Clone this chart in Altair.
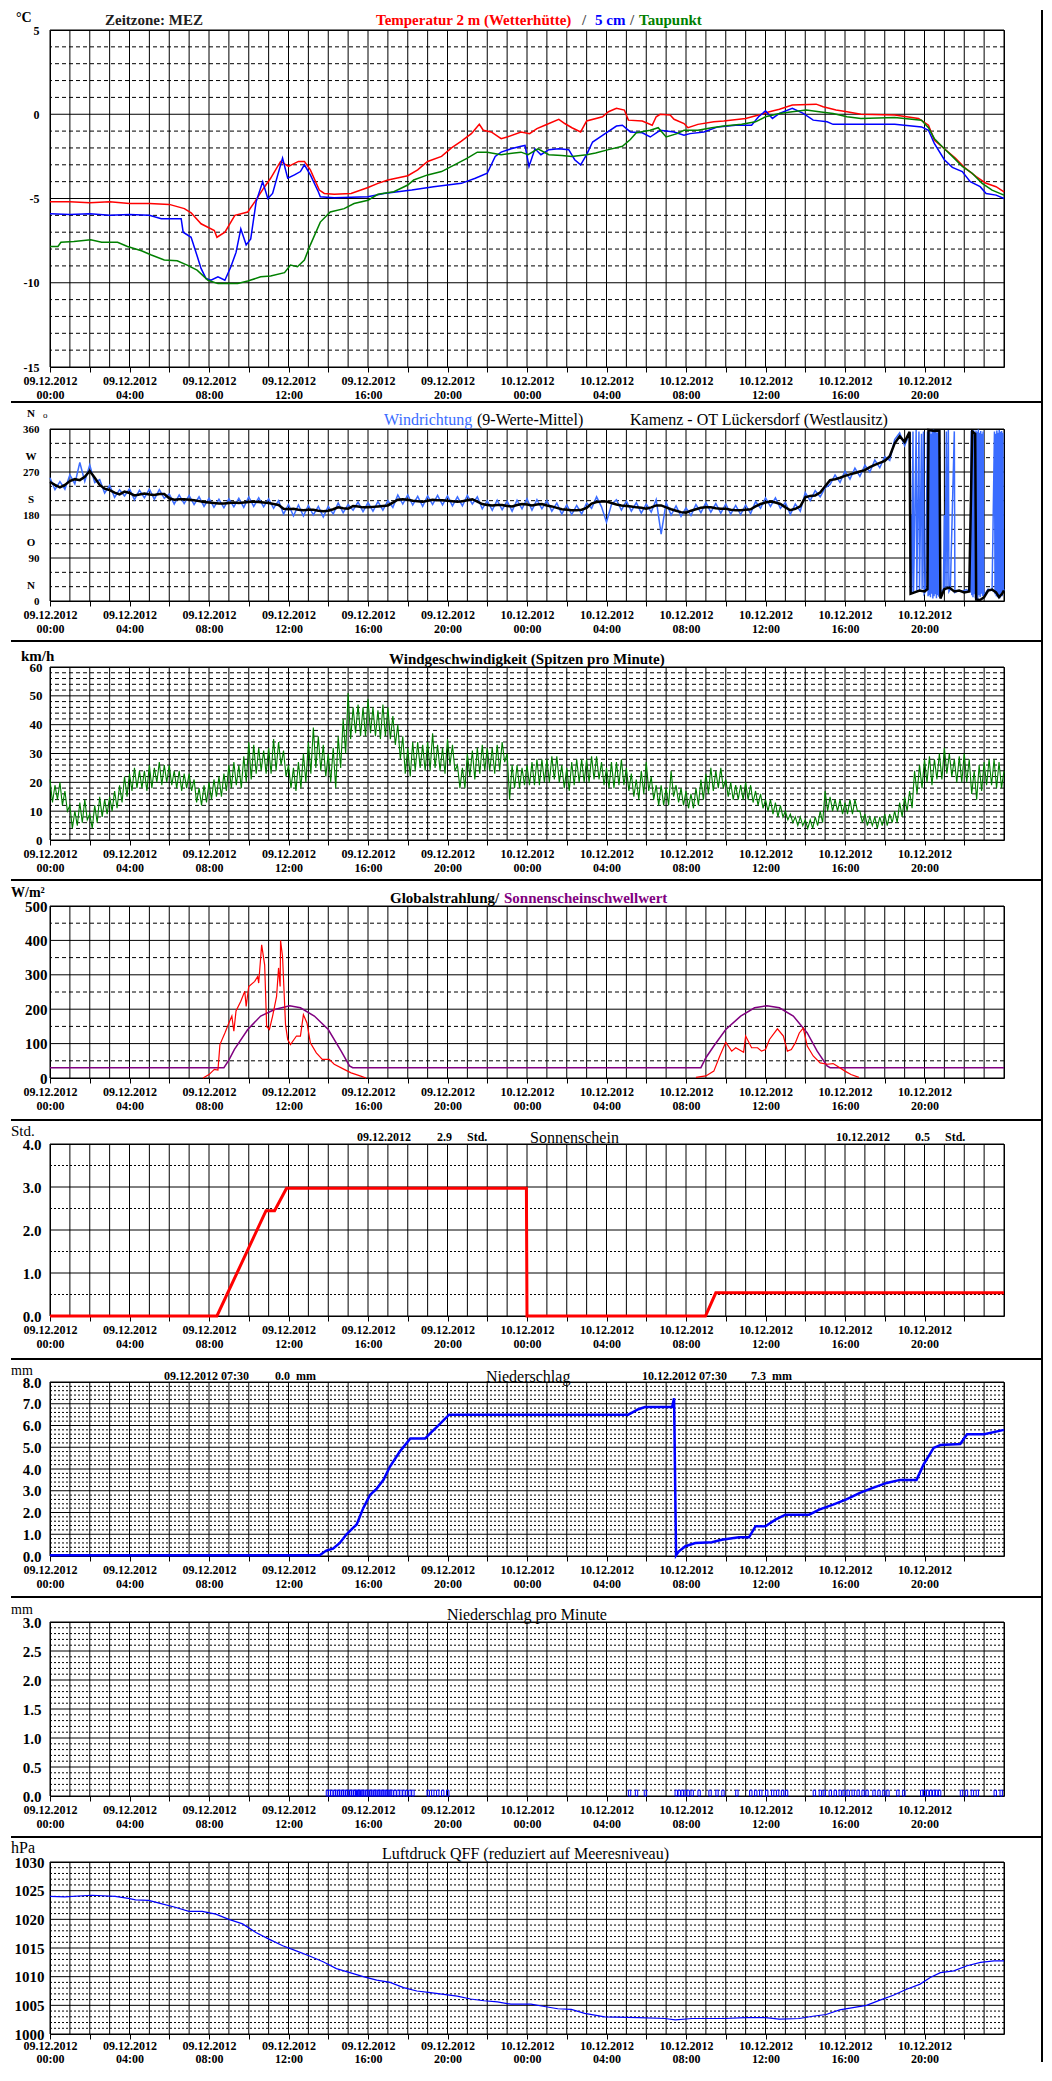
import altair as alt
import pandas as pd

FONT = "Liberation Serif"
W = 954

# ---------------- layout (reference page coordinates of the plot areas) ----------------
TOPS = [28, 427, 666, 906, 1145, 1384, 1625, 1866]
HEIGHTS = [337, 172, 173, 172, 172, 174, 174, 172]
SEPS = [8, 400, 640, 880, 1121, 1361, 1600, 1841, 2079]
RIGHT = 992  # right frame line, local x

# ---------------- data ----------------
T2 = [(0, -5.2), (1, -5.2), (2, -5.25), (3, -5.2), (4, -5.3), (5, -5.3), (6, -5.35), (6.76, -5.6),
      (7.1, -5.85), (7.6, -6.5), (8.27, -6.9), (8.4, -7.3), (8.8, -7.0), (9.3, -6.0), (9.95, -5.8),
      (10.3, -5.2), (10.8, -4.3), (11.1, -3.8), (11.6, -2.8), (12.0, -3.1), (12.5, -2.8), (12.8, -2.8),
      (13.1, -3.3), (13.55, -4.5), (13.8, -4.7), (14.3, -4.75), (15.15, -4.7), (16.0, -4.35), (16.5, -4.1),
      (17.0, -3.9), (18.0, -3.65), (18.5, -3.3), (19.0, -2.8), (19.7, -2.5), (20.2, -2.0), (20.7, -1.6),
      (21.2, -1.15), (21.6, -0.6), (21.8, -0.95), (22.2, -1.05), (22.7, -1.45), (23.0, -1.35), (23.7, -1.05),
      (24.13, -1.15), (24.5, -0.85), (24.9, -0.65), (25.6, -0.3), (25.9, -0.55), (26.26, -0.8), (26.7, -1.05),
      (27.0, -0.4), (27.8, -0.15), (28.1, 0.15), (28.5, 0.35), (28.9, 0.25), (29.1, -0.35), (29.8, -0.4),
      (30.3, -0.65), (30.5, -0.15), (30.7, 0.0), (31.2, -0.05), (31.4, -0.3), (31.9, -0.55), (32.1, -0.8),
      (32.6, -0.6), (33.4, -0.45), (33.9, -0.4), (35.0, -0.25), (35.65, -0.05), (36.2, 0.15), (36.7, 0.3),
      (37.35, 0.55), (38.55, 0.6), (38.9, 0.45), (39.55, 0.25), (40.1, 0.15), (40.8, 0.0), (42.5, -0.05),
      (43.7, -0.25), (44.2, -0.65), (44.5, -1.55), (45.0, -2.05), (45.55, -2.6), (46.05, -3.2), (46.6, -3.7),
      (47.1, -4.1), (47.6, -4.3), (48.0, -4.6)]

T5 = [(0, -5.9), (1, -5.95), (2, -5.9), (3, -6.0), (4, -5.95), (5, -6.0), (5.6, -6.2), (6.6, -6.2), (6.7, -7.0),
      (7.1, -7.3), (7.4, -8.4), (7.6, -9.15), (7.85, -9.75), (8.1, -9.85), (8.45, -9.65), (8.8, -9.85),
      (9.1, -9.05), (9.36, -8.2), (9.6, -6.8), (9.87, -7.75), (10.1, -7.4), (10.37, -5.2), (10.7, -4.0),
      (10.96, -5.0), (11.2, -4.7), (11.46, -3.6), (11.7, -2.6), (11.96, -3.8), (12.3, -3.6), (12.6, -3.4),
      (12.8, -3.0), (13.1, -3.6), (13.5, -4.6), (13.6, -4.9), (14.3, -4.95), (16.0, -4.9), (16.8, -4.7),
      (18.2, -4.5), (19.3, -4.3), (20.7, -4.1), (21.4, -3.8), (22.0, -3.5), (22.4, -2.5), (22.7, -2.25),
      (23.2, -2.05), (23.7, -1.9), (23.9, -1.85), (24.1, -3.1), (24.4, -2.05), (24.7, -2.4), (25.1, -2.1),
      (25.6, -2.05), (26.1, -2.1), (26.4, -2.7), (26.7, -3.0), (27.0, -2.4), (27.3, -1.65), (27.8, -1.25),
      (28.5, -0.7), (28.8, -0.65), (29.2, -1.05), (29.8, -1.1), (30.2, -1.35), (30.7, -0.95), (31.4, -1.05),
      (31.9, -1.25), (32.2, -1.15), (32.9, -1.05), (33.6, -0.75), (34.5, -0.65), (35.3, -0.65), (35.65, -0.15),
      (36.0, 0.2), (36.35, -0.25), (36.7, 0.05), (37.35, 0.35), (37.9, 0.05), (38.4, -0.35), (39.1, -0.45),
      (39.4, -0.6), (40.8, -0.6), (42.5, -0.6), (43.85, -0.75), (44.2, -0.95), (44.5, -1.75), (45.0, -2.7),
      (45.4, -3.15), (45.9, -3.4), (46.3, -4.0), (46.8, -4.3), (47.1, -4.7), (47.6, -4.8), (48.0, -5.0)]

TD = [(0, -7.85), (0.4, -7.85), (0.55, -7.6), (1.2, -7.55), (2.05, -7.45), (2.6, -7.6), (3.4, -7.6),
      (3.9, -7.85), (4.6, -8.1), (5.1, -8.35), (5.75, -8.65), (6.4, -8.7), (6.9, -8.95), (7.4, -9.25),
      (7.95, -9.85), (8.45, -10.05), (8.95, -10.05), (9.45, -10.05), (9.95, -9.9), (10.6, -9.65), (11.1, -9.6),
      (11.8, -9.4), (12.1, -8.95), (12.45, -9.05), (12.8, -8.65), (13.1, -7.75), (13.6, -6.4), (14.1, -5.8),
      (14.8, -5.6), (15.3, -5.3), (16.0, -5.1), (16.5, -4.75), (17.3, -4.6), (18.0, -4.2), (18.3, -3.9),
      (19.0, -3.6), (19.7, -3.4), (20.35, -3.0), (21.0, -2.6), (21.5, -2.25), (22.0, -2.25), (22.7, -2.4),
      (23.35, -2.3), (23.7, -2.25), (24.05, -2.4), (24.55, -2.05), (25.1, -2.4), (25.75, -2.45), (26.26, -2.5),
      (27.0, -2.4), (27.45, -2.3), (28.1, -2.1), (28.8, -1.9), (29.2, -1.5), (29.5, -1.1), (30.2, -0.95),
      (30.6, -0.8), (31.0, -1.35), (31.55, -1.15), (31.9, -0.95), (32.6, -0.95), (33.3, -0.8), (33.9, -0.7),
      (34.8, -0.6), (35.5, -0.45), (36.0, -0.15), (36.7, 0.05), (37.35, 0.15), (38.05, 0.25), (38.7, 0.15),
      (39.4, 0.05), (40.1, -0.15), (40.8, -0.25), (42.5, -0.2), (43.85, -0.35), (44.2, -0.8), (44.5, -1.45),
      (45.0, -2.05), (45.4, -2.5), (45.9, -3.1), (46.4, -3.5), (46.9, -4.1), (47.4, -4.5), (48.0, -4.8)]

# wind direction, quarter-hour readings 0:00 .. 43:15 (9-value mean, black)
WD_MEAN = [
    249, 243, 238, 243, 251, 255, 253, 260, 272, 258, 243, 235, 232, 227, 223, 229,
    226, 221, 223, 225, 223, 222, 224, 224, 215, 212, 213, 213, 212, 211, 209, 207,
    206, 205, 204, 204, 205, 206, 205, 206, 207, 208, 207, 206, 205, 203, 201, 193,
    192, 193, 191, 190, 191, 191, 189, 188, 189, 192, 196, 194, 193, 199, 198, 196,
    196, 197, 198, 199, 200, 206, 212, 213, 212, 210, 209, 208, 210, 212, 211, 211,
    210, 209, 208, 209, 211, 213, 208, 203, 201, 200, 201, 201, 199, 198, 201, 203,
    202, 200, 202, 203, 200, 198, 195, 192, 191, 190, 190, 191, 195, 204, 207, 208,
    208, 205, 202, 200, 199, 198, 196, 195, 193, 196, 200, 200, 196, 192, 189, 186,
    185, 189, 192, 195, 196, 196, 194, 193, 193, 191, 190, 190, 191, 192, 198, 203,
    206, 208, 206, 203, 196, 190, 193, 198, 217, 220, 221, 227, 240, 253, 255, 258,
    262, 265, 268, 271, 274, 280, 285, 289, 293, 303, 330, 345, 333, 354]
# raw direction (blue), same quarter-hour readings
WD_RAW = [
    258, 233, 250, 234, 264, 245, 290, 250, 285, 248, 254, 226, 242, 217, 233, 220,
    235, 212, 232, 216, 234, 213, 233, 215, 224, 203, 222, 204, 221, 202, 218, 198,
    215, 196, 213, 195, 214, 197, 215, 196, 218, 198, 216, 197, 214, 194, 210, 182,
    202, 178, 201, 178, 200, 180, 198, 176, 198, 182, 205, 185, 202, 190, 207, 187,
    206, 188, 208, 190, 210, 196, 222, 203, 222, 201, 219, 198, 220, 202, 221, 201,
    220, 199, 218, 199, 221, 203, 218, 193, 210, 190, 211, 191, 209, 188, 211, 193,
    214, 190, 212, 193, 210, 188, 205, 182, 201, 181, 200, 182, 205, 194, 218, 197,
    165, 202, 212, 190, 209, 188, 206, 184, 203, 186, 212, 140, 206, 180, 199, 177,
    195, 179, 202, 185, 206, 186, 204, 184, 203, 182, 200, 181, 201, 183, 208, 194,
    216, 198, 216, 194, 206, 181, 203, 188, 227, 210, 231, 218, 237, 244, 264, 248,
    272, 255, 278, 261, 284, 270, 295, 279, 302, 294, 338, 352, 325, 350]
WD_MEAN_LATE = [(43.3, 15), (43.5, 18), (43.75, 22), (44.0, 20), (44.15, 25), (44.2, 358), (44.5, 356),
                (44.75, 357), (44.8, 5), (45.0, 25), (45.25, 28), (45.5, 20), (45.75, 22), (46.0, 18),
                (46.25, 20), (46.4, 355), (46.55, 350), (46.6, 3), (46.8, 2), (47.0, 8), (47.2, 22),
                (47.4, 24), (47.6, 18), (47.75, 8), (47.9, 15), (48.0, 22)]
WD_RAW_LATE = [(43.28, 350), (43.3, 20), (43.33, 180), (43.36, 15), (43.42, 355), (43.45, 18), (43.58, 358),
               (43.61, 22), (43.72, 355), (43.75, 20), (43.85, 350), (43.88, 25), (43.95, 355), (43.98, 15),
               (44.05, 20), (44.15, 355), (44.18, 10), (44.21, 352), (44.24, 12), (44.27, 358), (44.3, 8),
               (44.33, 350), (44.36, 15), (44.39, 356), (44.42, 5), (44.45, 359), (44.48, 10), (44.51, 354),
               (44.54, 14), (44.57, 357), (44.6, 6), (44.63, 352), (44.66, 12), (44.69, 358), (44.72, 9),
               (44.75, 355), (44.78, 15), (44.85, 20), (44.95, 25), (45.0, 180), (45.03, 22), (45.1, 355),
               (45.13, 30), (45.2, 358), (45.23, 20), (45.3, 25), (45.5, 355), (45.53, 18), (45.7, 22),
               (45.9, 20), (46.1, 24), (46.3, 20), (46.35, 356), (46.38, 12), (46.41, 352), (46.44, 8),
               (46.47, 358), (46.5, 14), (46.53, 350), (46.56, 6), (46.59, 357), (46.62, 10), (46.65, 354),
               (46.68, 4), (46.71, 359), (46.74, 12), (46.77, 352), (46.8, 8), (46.83, 356), (46.86, 15),
               (46.89, 350), (46.92, 10), (46.95, 355), (46.98, 12), (47.05, 15), (47.2, 25), (47.4, 22),
               (47.52, 355), (47.55, 14), (47.58, 350), (47.61, 10), (47.64, 357), (47.67, 8), (47.7, 352),
               (47.73, 12), (47.76, 358), (47.79, 6), (47.82, 354), (47.85, 15), (47.88, 356), (47.91, 10),
               (47.94, 352), (47.97, 20), (48.0, 25)]

# wind gusts, quarter-hour peaks and lows (km/h)
WS_HI = [21, 19, 20, 17, 12, 10, 13, 14, 9, 12, 15, 14, 15, 17, 19, 22,
         23, 25, 24, 24, 26, 25, 27, 26, 26, 24, 24, 23, 23, 21, 18, 19,
         20, 21, 22, 23, 26, 27, 26, 29, 34, 33, 32, 31, 32, 35, 34, 31,
         26, 25, 27, 30, 34, 39, 36, 33, 30, 32, 36, 42, 51, 46, 47, 46,
         49, 46, 45, 47, 46, 43, 40, 36, 32, 34, 34, 33, 34, 37, 33, 32,
         35, 33, 26, 25, 30, 31, 32, 33, 32, 32, 33, 34, 30, 26, 26, 25,
         26, 27, 28, 28, 28, 29, 29, 26, 25, 27, 28, 28, 28, 29, 29, 27,
         25, 27, 27, 28, 25, 23, 21, 24, 27, 22, 19, 19, 18, 24, 19, 18,
         17, 16, 18, 21, 23, 25, 24, 25, 21, 20, 19, 19, 20, 19, 17, 16,
         14, 14, 13, 12, 10, 9, 8, 8, 7, 7, 8, 10, 17, 15, 14, 14,
         13, 14, 14, 10, 9, 8, 8, 8, 9, 9, 10, 13, 15, 17, 24, 26,
         28, 29, 28, 30, 32, 30, 28, 29, 30, 28, 24, 26, 27, 28, 28, 27]
WS_LO = [13, 14, 12, 10, 4, 5, 6, 7, 4, 6, 8, 9, 10, 11, 13, 15,
         17, 18, 18, 17, 18, 20, 19, 20, 19, 18, 17, 18, 17, 13, 12, 13,
         14, 15, 15, 17, 18, 19, 18, 20, 21, 23, 24, 23, 23, 24, 26, 22,
         18, 17, 18, 20, 23, 25, 24, 22, 20, 18, 25, 30, 35, 37, 36, 36,
         37, 36, 35, 36, 35, 33, 28, 23, 22, 24, 25, 24, 24, 25, 24, 23,
         26, 24, 18, 18, 22, 21, 23, 24, 24, 23, 24, 27, 14, 18, 18, 19,
         19, 19, 19, 20, 20, 21, 20, 18, 17, 19, 20, 20, 20, 21, 21, 19,
         18, 18, 19, 19, 17, 15, 14, 16, 17, 14, 12, 12, 12, 15, 13, 12,
         11, 11, 12, 14, 16, 17, 18, 18, 15, 14, 14, 14, 14, 13, 12, 11,
         10, 9, 8, 8, 7, 6, 5, 5, 4, 4, 5, 6, 10, 10, 10, 9,
         9, 9, 10, 6, 5, 5, 4, 5, 5, 6, 6, 8, 10, 11, 16, 18,
         20, 19, 21, 21, 23, 22, 20, 20, 20, 16, 14, 17, 19, 19, 18, 18]
WS_END = (48.0, 24)

GR = [(7.7, 0), (8.0, 10), (8.27, 25), (8.45, 23), (8.55, 97), (8.8, 131), (9.0, 160), (9.15, 180), (9.25, 136),
      (9.36, 195), (9.6, 223), (9.8, 252), (9.87, 208), (10.0, 266), (10.3, 281), (10.45, 295), (10.5, 276),
      (10.65, 387), (10.8, 329), (10.9, 150), (11.04, 141), (11.2, 180), (11.4, 237), (11.5, 320), (11.58, 266),
      (11.6, 400), (11.7, 353), (11.85, 155), (11.96, 112), (12.1, 97), (12.4, 122), (12.6, 122), (12.75, 184),
      (12.93, 160), (13.1, 102), (13.4, 73), (13.7, 54), (14.05, 54), (14.3, 40), (14.8, 25), (15.15, 15),
      (15.6, 6), (15.9, 0)]
GR2 = [(32.5, 2), (33.0, 6), (33.4, 20), (33.7, 64), (34.0, 104), (34.3, 78), (34.5, 88), (34.9, 75), (35.0, 122),
       (35.3, 88), (35.6, 88), (35.8, 78), (36.0, 83), (36.2, 112), (36.6, 143), (36.9, 122), (37.1, 78),
       (37.3, 83), (37.5, 102), (37.7, 131), (37.9, 145), (38.1, 93), (38.4, 64), (38.75, 44), (39.1, 40),
       (39.4, 42), (39.6, 35), (40.0, 20), (40.3, 10), (40.7, 2)]
THRESH = [(0, 30), (8.75, 30), (9.0, 52), (9.28, 83), (9.95, 141), (10.6, 180), (11.3, 199), (12.06, 210),
          (12.6, 204), (13.3, 180), (14.0, 141), (14.65, 78), (15.07, 35), (15.23, 30), (32.75, 30), (33.0, 59),
          (33.4, 93), (34.0, 141), (34.75, 180), (35.45, 204), (36.07, 210), (36.7, 204), (37.4, 180),
          (38.1, 131), (38.6, 78), (39.1, 35), (39.25, 30), (48, 30)]

SUN = [(0, 0), (8.4, 0), (10.87, 2.45), (11.3, 2.45), (11.9, 2.97), (23.97, 2.97), (24.0, 0), (32.98, 0),
       (33.5, 0.54), (48, 0.54)]

PRECIP = [(0, 0.03), (13.57, 0.03), (13.9, 0.25), (14.24, 0.34), (14.58, 0.6), (14.92, 1.0), (15.26, 1.3),
          (15.43, 1.45), (15.76, 2.2), (16.1, 2.8), (16.44, 3.1), (16.78, 3.5), (17.1, 4.1), (17.6, 4.8),
          (18.13, 5.4), (18.87, 5.4), (19.14, 5.65), (19.48, 5.95), (20.08, 6.5), (29.1, 6.5), (29.6, 6.75),
          (29.94, 6.85), (31.3, 6.85), (31.4, 7.25), (31.5, 0.03), (31.63, 0.2), (31.97, 0.45), (32.47, 0.6),
          (33.3, 0.63), (33.8, 0.75), (34.66, 0.86), (35.17, 0.86), (35.5, 1.37), (36.0, 1.37), (36.5, 1.67),
          (37.0, 1.9), (38.2, 1.9), (38.7, 2.13), (39.4, 2.36), (40.07, 2.6), (40.75, 2.9), (41.4, 3.13),
          (42.1, 3.36), (42.77, 3.5), (43.6, 3.5), (43.95, 4.2), (44.46, 4.97), (44.8, 5.1), (45.8, 5.15),
          (46.14, 5.6), (47.0, 5.6), (48.0, 5.8)]

RAIN_MIN_H = [13.9, 14.0, 14.12, 14.25, 14.35, 14.45, 14.55, 14.65, 14.75, 14.85, 14.95, 15.05, 15.15, 15.25,
              15.35, 15.42, 15.5, 15.58, 15.66, 15.75, 15.85, 15.95, 16.05, 16.15, 16.25, 16.35, 16.45, 16.55,
              16.65, 16.75, 16.85, 16.95, 17.05, 17.15, 17.3, 17.45, 17.6, 17.75, 17.9, 18.05, 18.2,
              18.97, 19.2, 19.45, 19.7, 19.95, 29.1, 29.45, 29.9, 31.45, 31.6, 31.75, 31.9, 32.05, 32.25, 32.6,
              33.15, 33.5, 33.8, 34.5, 35.2, 35.45, 35.7, 36.0, 36.3, 36.55, 36.8, 37.0, 38.4, 38.7, 38.9,
              39.2, 39.45, 39.7, 39.9, 40.1, 40.35, 40.6, 40.85, 41.05, 41.4, 41.65, 41.9, 42.1, 42.6, 42.9,
              43.8, 43.95, 44.1, 44.25, 44.4, 44.55, 44.7, 45.8, 46.05, 46.35, 46.6, 47.5, 47.8]
RAIN_MIN_MM = 0.1

QFF = [(0, 1024.0), (0.74, 1023.9), (2.1, 1024.2), (3.27, 1024.0), (3.95, 1023.65), (4.3, 1023.4),
       (4.96, 1023.3), (5.64, 1022.7), (6.3, 1022.1), (6.99, 1021.4), (7.66, 1021.4), (8.34, 1020.9),
       (9.0, 1020.0), (9.69, 1019.2), (10.36, 1017.7), (11.04, 1016.5), (11.71, 1015.4), (12.39, 1014.5),
       (13.06, 1013.6), (13.74, 1012.6), (14.41, 1011.4), (15.09, 1010.7), (15.76, 1010.0), (16.44, 1009.4),
       (17.11, 1009.0), (17.79, 1008.1), (18.46, 1007.5), (19.14, 1007.2), (19.81, 1006.9), (20.49, 1006.6),
       (21.16, 1006.1), (21.84, 1005.8), (22.51, 1005.6), (23.19, 1005.2), (24.2, 1005.2), (24.88, 1004.8),
       (25.55, 1004.4), (26.23, 1004.3), (26.9, 1003.6), (27.91, 1003.0), (29.6, 1002.85), (30.95, 1002.7),
       (31.46, 1002.45), (32.3, 1002.7), (34.0, 1002.7), (35.0, 1002.85), (36.0, 1002.85), (36.7, 1002.6),
       (37.7, 1002.7), (38.38, 1003.1), (39.05, 1003.4), (39.73, 1004.2), (40.4, 1004.6), (41.08, 1005.0),
       (41.76, 1005.9), (42.43, 1006.75), (43.1, 1007.8), (43.78, 1008.7), (44.29, 1009.85), (44.8, 1010.7),
       (45.47, 1011.0), (46.14, 1011.9), (46.82, 1012.5), (47.5, 1012.75), (48.0, 1012.75)]

# ---------------- helpers ----------------
ONE = pd.DataFrame({"a": [0]})
HOURS = list(range(49))
XS = alt.Scale(domain=[0, 48], nice=False, zero=False)
LABEL_EXPR = ("datum.value % 4 == 0 ? [(datum.value < 24 ? '09' : '10') + '.12.2012', "
              "((datum.value % 24) < 10 ? '0' : '') + (datum.value % 24) + ':00'] : ''")


def make_xaxis(pad, lh):
    return alt.Axis(values=list(range(0, 48, 2)), labelExpr=LABEL_EXPR, title=None, grid=False, domain=False,
                    ticks=True, tickSize=5, tickColor="black", tickWidth=1,
                    labelFont=FONT, labelFontSize=12, labelFontWeight="bold", labelColor="black",
                    labelPadding=pad, labelBaseline="top", labelLineHeight=lh, labelFlush=False,
                    labelOverlap=False)


XAXIS = make_xaxis(3, 14)
XAXIS_LAST = make_xaxis(1, 13)


def make_x(axis):
    def X(field="h"):
        return alt.X(field, type="quantitative", scale=XS, axis=axis)
    return X


def make_y(dom, values, expr, size, pad):
    sc = alt.Scale(domain=dom, nice=False, zero=False)
    ax = alt.Axis(values=values, labelExpr=expr, title=None, grid=False, domain=False, ticks=False,
                  labelFont=FONT, labelFontSize=size, labelFontWeight="bold", labelColor="black",
                  labelPadding=pad, labelFlush=False, labelOverlap=False)

    def Y(field="v"):
        return alt.Y(field, type="quantitative", scale=sc, axis=ax)
    return Y


def grids(X, Y, major, minor, dash):
    g1 = alt.Chart(pd.DataFrame({"v": minor})).mark_rule(color="black", strokeWidth=1, strokeDash=dash).encode(y=Y("v"))
    g2 = alt.Chart(pd.DataFrame({"v": major})).mark_rule(color="black", strokeWidth=1).encode(y=Y("v"))
    g3 = alt.Chart(pd.DataFrame({"h": HOURS})).mark_rule(color="black", strokeWidth=1).encode(x=X("h"))
    return [g1, g2, g3]


def line(pairs, X, Y, color, width):
    df = pd.DataFrame(pairs, columns=["h", "v"])
    return alt.Chart(df).mark_line(color=color, strokeWidth=width).encode(x=X("h"), y=Y("v"))


def txt(s, x, y, color="black", size=15, weight="normal", align="left"):
    return alt.Chart(ONE).mark_text(text=s, font=FONT, fontSize=size, fontWeight=weight, color=color,
                                    align=align, baseline="middle").encode(x=alt.value(x), y=alt.value(y))


def hrule(y, x1=-39, x2=RIGHT, color="black", width=2, opacity=1.0):
    return alt.Chart(ONE).mark_rule(color=color, strokeWidth=width, opacity=opacity).encode(
        x=alt.value(x1), x2=alt.value(x2), y=alt.value(y))


def vrule(x, y1, y2, color="black", width=2):
    return alt.Chart(ONE).mark_rule(color=color, strokeWidth=width).encode(
        x=alt.value(x), y=alt.value(y1), y2=alt.value(y2))


def frame(i):
    top = TOPS[i]
    out = []
    if i == 0:
        out.append(hrule(SEPS[0] - top, x1=-41, color="#c0c0c0", width=1, opacity=0))
    else:
        out.append(hrule(SEPS[i] - top))
    bottom = SEPS[i + 1] - top if i < 7 else 200
    out.append(vrule(RIGHT, SEPS[i] - top, bottom))
    return out


def steps(lo, hi, step, major_every):
    n = int(round((hi - lo) / step))
    vals = [round(lo + k * step, 3) for k in range(n + 1)]
    major = [v for k, v in enumerate(vals) if k % major_every == 0]
    minor = [v for k, v in enumerate(vals) if k % major_every != 0]
    return major, minor


DASH = [4, 3]
DOT = [2, 2]
INT_EXPR = "'' + datum.value"
DEC_EXPR = "format(datum.value, '.1f')"
X = make_x(XAXIS)
XL = make_x(XAXIS_LAST)

# ---------------- panel 1: temperature ----------------
maj, mnr = steps(-15, 5, 1, 5)
Y1 = make_y([-15, 5], maj, INT_EXPR, 12, 11)
p1 = alt.layer(*(grids(X, Y1, maj, mnr, DASH) + [
    line(T2, X, Y1, "#ff0000", 1.5), line(T5, X, Y1, "#0000ff", 1.5), line(TD, X, Y1, "#008000", 1.5),
    txt("°C", -34, -12.5, size=14, weight="bold"),
    txt("Zeitzone: MEZ", 55, -10, color="#202020", size=15, weight="bold"),
    txt("Temperatur 2 m (Wetterhütte)", 326, -10, color="#ff0000", size=15, weight="bold"),
    txt("/", 532, -10, color="#505050", size=15, weight="bold"),
    txt("5 cm", 545, -10, color="#0000ff", size=15, weight="bold"),
    txt("/", 580, -10, color="#505050", size=15, weight="bold"),
    txt("Taupunkt", 589, -10, color="#008000", size=15, weight="bold"),
] + frame(0))).properties(width=W, height=HEIGHTS[0])

# ---------------- panel 2: wind direction ----------------
maj, mnr = steps(0, 360, 30, 3)
Y2 = make_y([0, 360], maj, INT_EXPR, 11, 11)
WD_H = [k * 0.25 for k in range(len(WD_MEAN))]
wd_mean = list(zip(WD_H, WD_MEAN)) + WD_MEAN_LATE
wd_raw = list(zip(WD_H, WD_RAW)) + WD_RAW_LATE
letters = pd.DataFrame({"v": [360, 270, 180, 90, 0], "t": ["N", "W", "S", "O", "N"]})
p2 = alt.layer(*(grids(X, Y2, maj, mnr, DASH) + [
    line(wd_raw, X, Y2, "#3a6cff", 1.5),
    line(wd_mean, X, Y2, "#000000", 2.5),
    alt.Chart(letters).mark_text(font=FONT, fontSize=11, fontWeight="bold", color="black", align="center",
                                 baseline="middle", dy=-15).encode(x=alt.value(-19), y=Y2("v"), text="t:N"),
    txt("o", -7, -14, size=9),
    txt("Windrichtung", 334, -9, color="#3a6cff", size=16),
    txt("(9-Werte-Mittel)", 427, -9, size=16),
    txt("Kamenz - OT Lückersdorf (Westlausitz)", 580, -9, size=16),
] + frame(1))).properties(width=W, height=HEIGHTS[1])

# ---------------- panel 3: wind speed ----------------
maj, mnr = steps(0, 60, 2, 5)
Y3 = make_y([0, 60], maj, INT_EXPR, 13, 8)
ws = []
for k, (hi, lo) in enumerate(zip(WS_HI, WS_LO)):
    ws.append((k * 0.25, hi))
    ws.append((k * 0.25 + 0.125, lo))
ws.append(WS_END)
p3 = alt.layer(*(grids(X, Y3, maj, mnr, DASH) + [
    line(ws, X, Y3, "#008000", 1.1),
    txt("km/h", -29, -11, size=15, weight="bold"),
    txt("Windgeschwindigkeit (Spitzen pro Minute)", 339, -8, size=15, weight="bold"),
] + frame(2))).properties(width=W, height=HEIGHTS[2])

# ---------------- panel 4: global radiation ----------------
maj, mnr = steps(0, 500, 50, 2)
Y4 = make_y([0, 500], maj, INT_EXPR, 15, 3)
gr_df = pd.DataFrame([(h, v, 1) for h, v in GR] + [(h, v, 2) for h, v in GR2], columns=["h", "v", "d"])
p4 = alt.layer(*(grids(X, Y4, maj, mnr, DASH) + [
    line(THRESH, X, Y4, "#800080", 1.5),
    alt.Chart(gr_df).mark_line(color="#ff0000", strokeWidth=1.2).encode(x=X("h"), y=Y4("v"), detail="d:N"),
    txt("W/m²", -39, -13, size=14, weight="bold"),
    txt("Globalstrahlung/", 340, -8, size=15, weight="bold"),
    txt("Sonnenscheinschwellwert", 454, -8, color="#800080", size=15, weight="bold"),
] + frame(3))).properties(width=W, height=HEIGHTS[3])

# ---------------- panel 5: sunshine ----------------
maj, mnr = steps(0, 4, 0.5, 2)
Y5 = make_y([0, 4], maj, DEC_EXPR, 15, 9)
p5 = alt.layer(*(grids(X, Y5, maj, mnr, DOT) + [
    line(SUN, X, Y5, "#ff0000", 3),
    txt("Std.", -39, -13, size=15),
    txt("09.12.2012", 307, -7, size=12, weight="bold"),
    txt("2.9", 387, -7, size=12, weight="bold"),
    txt("Std.", 417, -7, size=12, weight="bold"),
    txt("Sonnenschein", 480, -6, size=16),
    txt("10.12.2012", 786, -7, size=12, weight="bold"),
    txt("0.5", 865, -7, size=12, weight="bold"),
    txt("Std.", 895, -7, size=12, weight="bold"),
] + frame(4))).properties(width=W, height=HEIGHTS[4])

# ---------------- panel 6: precipitation ----------------
maj, mnr = steps(0, 8, 0.2, 5)
Y6 = make_y([0, 8], maj, DEC_EXPR, 15, 9)
p6 = alt.layer(*(grids(X, Y6, maj, mnr, DOT) + [
    line(PRECIP, X, Y6, "#0000ff", 2.5),
    txt("mm", -39, -11, size=14),
    txt("09.12.2012 07:30", 114, -6, size=12, weight="bold"),
    txt("0.0\u00a0\u00a0mm", 225, -6, size=12, weight="bold"),
    txt("Niederschlag", 436, -5, size=16),
    txt("10.12.2012 07:30", 592, -6, size=12, weight="bold"),
    txt("7.3\u00a0\u00a0mm", 701, -6, size=12, weight="bold"),
] + frame(5))).properties(width=W, height=HEIGHTS[5])

# ---------------- panel 7: precipitation per minute ----------------
maj, mnr = steps(0, 3, 0.1, 5)
Y7 = make_y([0, 3], maj, DEC_EXPR, 15, 9)
rain_df = pd.DataFrame({"h": RAIN_MIN_H})
rain_df["h2"] = rain_df["h"] + 0.12
rain_df["v"] = RAIN_MIN_MM
rain_df["v0"] = 0.0
p7 = alt.layer(*(grids(X, Y7, maj, mnr, DOT) + [
    alt.Chart(rain_df).mark_rect(stroke="#0000ff", strokeWidth=1, fillOpacity=0, color="#0000ff").encode(
        x=X("h"), x2=alt.X2("h2"), y=Y7("v"), y2=alt.Y2("v0")),
    txt("mm", -39, -12, size=14),
    txt("Niederschlag pro Minute", 397, -7, size=16),
] + frame(6))).properties(width=W, height=HEIGHTS[6])

# ---------------- panel 8: pressure ----------------
maj, mnr = steps(1000, 1030, 1, 5)
Y8 = make_y([1000, 1030], maj, INT_EXPR, 15, 6)
p8 = alt.layer(*(grids(XL, Y8, maj, mnr, DOT) + [
    line(QFF, XL, Y8, "#0000ff", 1.2),
    txt("hPa", -39, -14, size=16),
    txt("Luftdruck QFF (reduziert auf Meeresniveau)", 332, -8, size=16),
] + frame(7))).properties(width=W, height=HEIGHTS[7])

rest = alt.vconcat(p2, p3, p4, p5, p6, p7, p8, spacing=66, bounds="flush")
chart = alt.vconcat(p1, rest, spacing=62, bounds="flush").properties(
    padding={"left": 0, "top": 0, "right": 0, "bottom": 0}, background="white"
).configure_view(stroke="black", strokeWidth=1)

chart.save("out.html", embed_options={"renderer": "svg", "actions": False})
